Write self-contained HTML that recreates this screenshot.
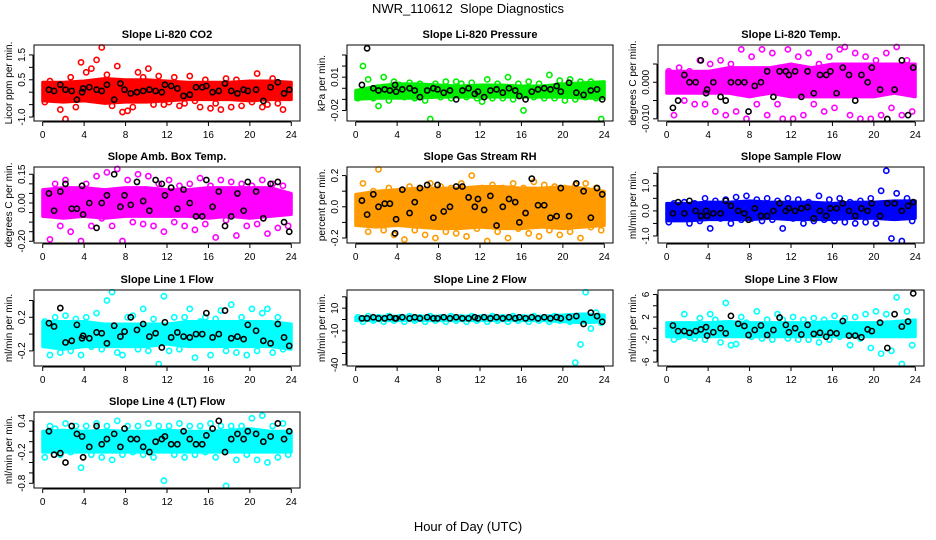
<!DOCTYPE html>
<html><head><meta charset="utf-8"><style>
html,body{margin:0;padding:0;background:#fff;}
svg{display:block;font-family:"Liberation Sans",sans-serif;}
</style></head><body>
<svg id="chart" width="936" height="540" viewBox="0 0 936 540" xmlns="http://www.w3.org/2000/svg">
<text x="468" y="13" font-size="13" text-anchor="middle">NWR_110612&#160; Slope Diagnostics</text>
<text x="468" y="531" font-size="13" text-anchor="middle">Hour of Day (UTC)</text>
</svg>
<script>
// shared hour arrays
const bandHours=[0,2,4,6,8,10,12,14,16,18,20,22,24];
const blackHours=[0.6,1.1,1.7,2.2,2.8,3.3,3.8,3.9,4.5,5.2,5.7,6.2,6.9,7.5,7.9,8.5,9.1,9.7,10.3,10.9,11.5,11.8,12.4,13.0,13.6,14.2,14.8,15.4,15.8,16.4,17.0,17.6,18.2,18.8,19.4,19.8,20.6,21.3,22.0,22.7,23.3,23.8];
const outHours=[0.2,0.7,1.2,1.7,2.2,2.7,3.2,3.7,4.2,4.7,5.2,5.7,6.2,6.7,7.2,7.7,8.2,8.7,9.2,9.7,10.2,10.7,11.2,11.7,12.2,12.7,13.2,13.7,14.2,14.7,15.2,15.7,16.2,16.7,17.2,17.7,18.2,18.7,19.2,19.7,20.2,20.7,21.2,21.7,22.2,22.7,23.2,23.7];
const xTicks=[0,4,8,12,16,20,24];

const co2BandLo=[-0.35,-0.4,-0.35,-0.45,-0.4,-0.4,-0.35,-0.3,-0.3,-0.3,-0.35,-0.3,-0.3];
const co2BandHi=[0.4,0.4,0.45,0.55,0.5,0.5,0.45,0.4,0.4,0.4,0.45,0.45,0.4];
const co2Black=[0.1,0.05,0.3,0.1,0.05,-0.3,0.0,0.15,0.2,0.1,0.05,0.3,-0.3,0.35,0.1,-0.05,0.0,0.05,0.1,0.05,0.0,0.3,0.25,0.15,-0.15,-0.1,0.2,0.2,0.25,0.0,0.05,0.35,0.05,-0.05,0.1,0.05,0.1,-0.35,0.2,0.4,-0.05,0.1];
const co2Out=[-0.4,0.45,-0.1,-0.7,-1.1,0.6,-0.6,1.2,0.8,0.95,1.3,1.8,0.7,-0.55,1.05,-0.8,-0.75,-0.6,0.8,0.6,0.95,-0.5,0.65,-0.5,-0.4,0.6,-0.55,-0.45,0.65,-0.35,-0.6,0.5,-0.65,-0.45,-0.7,0.55,-0.6,0.5,-0.55,0.3,-0.4,0.75,-0.6,-0.5,0.55,-0.45,-0.7,0.3];

const presBandLo=[-0.010,-0.009,-0.009,-0.009,-0.008,-0.008,-0.008,-0.008,-0.008,-0.008,-0.008,-0.009,-0.009];
const presBandHi=[-0.002,0.002,0.004,0.004,0.003,0.002,0.003,0.003,0.002,0.002,0.004,0.005,0.006];
const presBlack=[0.003,0.036,0.0,-0.002,-0.001,-0.002,0.003,-0.003,-0.001,0.0,-0.002,-0.008,-0.002,0.0,-0.001,-0.004,-0.002,-0.010,-0.002,0.0,-0.005,-0.003,-0.008,-0.002,-0.001,-0.004,0.0,-0.002,-0.007,-0.010,-0.003,-0.001,0.0,-0.001,0.002,-0.003,0.005,-0.004,-0.006,-0.002,-0.001,-0.010];
const presOut=[-0.009,0.02,0.008,-0.009,-0.016,0.01,-0.011,0.006,0.003,-0.008,0.005,-0.009,0.004,-0.011,-0.028,0.004,-0.008,0.006,-0.009,0.006,0.004,-0.008,0.005,-0.009,-0.012,0.008,-0.009,0.004,-0.009,0.01,-0.010,0.004,-0.020,0.006,-0.008,0.004,-0.009,0.012,-0.009,0.007,-0.011,0.008,-0.010,0.006,-0.008,0.006,-0.009,-0.030];

const tempBandLo=[-0.003,-0.003,-0.003,-0.003,-0.004,-0.003,-0.004,-0.004,-0.004,-0.004,-0.004,-0.003,-0.004];
const tempBandHi=[0.003,0.003,0.003,0.004,0.004,0.004,0.005,0.004,0.005,0.005,0.005,0.005,0.005];
const tempBlack=[-0.007,-0.005,0.002,0.000,0.000,0.006,-0.003,-0.002,0.000,-0.004,-0.005,0.000,0.000,0.000,-0.008,-0.001,0.000,0.003,-0.004,0.003,0.003,0.002,0.003,-0.004,0.003,-0.003,0.002,0.002,0.003,-0.003,0.004,0.002,-0.005,0.002,0.0,0.004,-0.002,-0.012,-0.002,0.006,-0.009,0.004];
const tempOut=[0.003,-0.009,0.004,-0.005,0.003,-0.006,0.006,-0.006,0.005,-0.008,0.006,-0.009,0.005,-0.008,0.009,-0.010,0.007,-0.006,0.009,-0.009,0.008,-0.006,-0.010,0.009,-0.010,0.007,-0.009,0.008,-0.006,0.005,-0.008,0.007,-0.007,0.009,0.010,-0.009,0.008,-0.010,0.007,-0.010,0.006,-0.009,0.008,-0.007,0.010,-0.009,0.006,-0.008];

const ambBandLo=[-0.07,-0.08,-0.07,-0.08,-0.07,-0.07,-0.07,-0.07,-0.08,-0.07,-0.08,-0.07,-0.06];
const ambBandHi=[0.07,0.08,0.08,0.07,0.08,0.08,0.07,0.07,0.08,0.08,0.08,0.08,0.05];
const ambBlack=[0.05,-0.04,0.06,0.1,-0.03,-0.03,0.09,-0.06,0.0,-0.13,0.0,0.04,0.15,-0.02,0.04,-0.01,0.11,0.01,-0.04,0.12,0.1,0.04,0.08,-0.03,0.07,0.0,-0.07,-0.07,0.12,-0.02,0.06,-0.12,-0.07,0.05,-0.04,0.11,0.06,-0.08,0.1,0.11,-0.1,-0.15];
const ambOut=[-0.05,-0.19,0.1,-0.12,0.12,-0.15,0.05,-0.2,0.1,-0.12,0.14,-0.08,0.16,-0.12,0.18,-0.2,0.12,-0.1,0.15,-0.11,0.14,-0.12,0.1,-0.15,0.12,-0.1,0.09,-0.12,0.1,-0.14,0.13,-0.11,0.09,-0.18,0.12,-0.09,0.11,-0.17,0.1,-0.12,0.09,-0.11,0.12,-0.16,0.1,-0.13,0.09,-0.12];

const rhBandLo=[-0.12,-0.13,-0.12,-0.13,-0.14,-0.14,-0.13,-0.14,-0.14,-0.13,-0.14,-0.13,-0.12];
const rhBandHi=[0.08,0.1,0.11,0.12,0.12,0.12,0.13,0.13,0.12,0.12,0.13,0.12,0.1];
const rhBlack=[0.04,-0.05,0.08,0.0,0.02,0.02,-0.17,-0.08,0.11,-0.04,0.03,0.12,0.14,-0.07,0.14,-0.03,0.0,0.13,0.13,0.06,0.0,0.05,-0.02,0.07,-0.12,0.0,0.05,0.03,-0.1,-0.04,0.18,0.01,0.01,-0.07,-0.06,0.12,-0.06,0.15,0.1,-0.07,0.12,0.08];
const rhOut=[-0.08,0.15,-0.16,0.1,0.24,-0.15,0.12,-0.18,0.1,-0.21,0.13,-0.15,0.12,-0.18,0.15,-0.2,0.13,-0.16,0.12,-0.17,0.15,-0.19,0.2,-0.14,0.12,-0.22,0.14,-0.16,0.12,-0.2,0.15,-0.14,0.12,-0.17,0.16,-0.19,0.14,-0.15,0.13,-0.18,0.12,-0.16,0.14,-0.2,0.15,-0.13,0.12,-0.15];

const sfBandLo=[-0.4,-0.4,-0.35,-0.35,-0.35,-0.3,-0.35,-0.35,-0.35,-0.3,-0.3,-0.35,-0.3];
const sfBandHi=[0.3,0.3,0.35,0.35,0.4,0.35,0.35,0.35,0.3,0.35,0.35,0.4,0.4];
const sfBlack=[-0.1,0.35,-0.1,0.4,0.0,-0.2,0.0,-0.2,-0.1,-0.1,0.4,0.2,0.0,-0.1,-0.35,0.1,-0.2,-0.2,0.0,0.3,0.0,0.1,0.0,0.1,0.15,-0.3,0.0,-0.2,0.1,0.1,0.3,0.0,-0.2,0.1,0.0,0.3,-0.2,0.3,0.3,0.0,0.2,0.35];
const sfOut=[-0.45,0.3,-0.3,0.35,-0.5,0.3,-0.4,0.5,-0.7,0.4,-0.3,0.45,-0.5,0.55,-0.35,0.6,-0.3,0.45,-0.4,0.5,-0.35,0.4,-0.7,0.5,-0.3,0.45,-0.5,0.35,-0.4,0.6,-0.35,0.45,-0.4,0.5,-0.45,0.35,-0.5,0.4,-0.45,0.5,-0.5,0.8,1.6,-1.1,0.7,-1.2,0.5,-0.4];

const l1BandLo=[-0.15,-0.18,-0.15,-0.15,-0.15,-0.15,-0.12,-0.15,-0.15,-0.15,-0.15,-0.15,-0.18];
const l1BandHi=[0.15,0.15,0.15,0.12,0.12,0.12,0.12,0.15,0.15,0.15,0.15,0.15,0.12];
const l1Black=[0.13,0.09,0.31,-0.1,-0.08,0.11,-0.05,-0.02,-0.05,0.02,0.01,-0.11,0.10,-0.03,0.03,0.2,0.05,0.12,-0.03,0.01,-0.16,0.14,-0.04,0.02,-0.03,-0.04,0.0,0.0,0.25,-0.04,0.0,0.28,-0.05,-0.03,-0.06,0.11,0.04,-0.08,-0.11,0.12,-0.04,-0.14];
const l1Out=[0.15,-0.25,0.2,-0.22,0.22,-0.2,0.18,-0.25,0.2,-0.15,0.25,-0.18,0.4,0.5,-0.22,-0.25,0.2,0.22,-0.18,0.3,-0.2,0.18,-0.36,0.45,-0.2,0.2,-0.18,0.2,0.3,-0.28,0.15,0.2,-0.25,0.18,0.28,-0.2,0.35,-0.22,0.2,-0.25,0.3,-0.2,0.25,0.3,-0.22,0.2,-0.18,-0.15];

const l2BandLo=[-1,-1,-1,-1,-1,-1,-1,-1,-1,-1,-2,-3,-2];
const l2BandHi=[2,3,3,3,3,3,3,3,3,3,4,5,4];
const l2Black=[1,1,2,1,1,2,1,1,2,1,2,1,2,1,1,2,1,2,1,1,2,1,2,1,2,1,2,1,2,1,2,1,2,1,2,1,2,3,-4,6,3,-2];
const l2Out=[2,-2,3,-1,2,-2,3,-1,2,-2,3,-1,2,-2,3,-1,2,-2,3,-1,2,-2,3,-1,2,-2,3,-1,2,-2,3,-1,2,-2,3,-1,2,-2,3,-1,2,-2,-38,-22,24,-8,6,-3];

const l3BandLo=[-1.5,-1.5,-1.5,-1.5,-1.5,-1.5,-1.5,-1.5,-1.5,-1.5,-1.5,-1.5,-1.5];
const l3BandHi=[1,1,1,1.2,1,1,1,1,1.2,1,1,1.2,1.5];
const l3Black=[0.5,-0.5,-0.5,-0.8,-0.5,-0.2,0.2,-1.3,-0.7,0,-0.9,2.2,0.8,0.4,-1.2,-0.3,0.5,-1.2,-0.3,1.9,0.6,-0.7,0,-1.1,0.6,-1.0,-0.8,-1.5,-0.8,-0.9,1.3,-1.3,-1.3,-1.6,-0.2,-0.5,1.0,-3.5,2.5,0.3,1.2,6.2];
const l3Out=[-0.8,-2,-1.5,2.5,-1.5,-1.8,1.8,-2,2.5,1.5,-2.5,4.5,-3,-2.8,2,1,-1.5,3,-1.8,1.5,-2,2.5,1.5,-1.8,2,-2,1.5,-2,1.8,-2.5,1.5,-2,2.2,-1.5,1.8,-3,2,-1.8,2.5,-3.5,3,-4.5,2.5,-4,5.5,-6.5,3,-3];

const l4BandLo=[-0.2,-0.2,-0.2,-0.2,-0.2,-0.2,-0.2,-0.2,-0.2,-0.2,-0.2,-0.2,-0.2];
const l4BandHi=[0.2,0.22,0.2,0.22,0.2,0.2,0.22,0.2,0.2,0.22,0.25,0.2,0.2];
const l4Black=[0.2,-0.25,-0.22,-0.4,0.3,0.15,0.1,-0.3,-0.1,0.3,-0.05,0.05,0.15,-0.1,0.25,0.05,0.05,-0.1,-0.2,0.0,0.05,0.1,-0.05,-0.05,0.2,0.05,-0.05,-0.05,0.12,0.25,0.4,-0.2,0.05,0.15,0.05,0.2,0.15,0.0,0.1,0.35,0.05,0.2];
const l4Out=[-0.3,0.3,0.25,-0.25,0.35,-0.2,0.3,-0.5,0.3,-0.25,0.35,-0.3,0.3,-0.35,0.4,-0.25,0.3,-0.2,0.3,-0.25,0.35,-0.3,0.3,-0.75,0.3,-0.25,0.35,-0.3,0.3,-0.25,0.3,-0.2,0.35,-0.3,0.3,-0.85,0.3,-0.35,0.3,-0.25,0.45,-0.35,0.5,-0.4,0.3,-0.3,0.35,-0.25];

const NS='http://www.w3.org/2000/svg';
const svg=document.getElementById('chart');
function mk(tag,attrs,parent){const e=document.createElementNS(NS,tag);for(const k in attrs)e.setAttribute(k,attrs[k]);(parent||svg).appendChild(e);return e;}

const panels=[
 {key:'co2',title:'Slope Li-820 CO2',ylab:'Licor ppm per min.',col:'#ff0000',c:0,r:0,ymin:-1.16,ymax:1.9,ticks:[-1,-0.5,0,0.5,1,1.5],labels:{'-1':'-1.0','0.5':'0.5','1.5':'1.5'},lo:co2BandLo,hi:co2BandHi,bk:co2Black,out:co2Out},
 {key:'pressure',title:'Slope Li-820 Pressure',ylab:'kPa per min.',col:'#00ee00',c:1,r:0,ymin:-0.0295,ymax:0.039,ticks:[-0.03,-0.02,-0.01,0,0.01,0.02,0.03],labels:{'-0.02':'-0.02','0.01':'0.01'},lo:presBandLo,hi:presBandHi,bk:presBlack,out:presOut},
 {key:'temp',title:'Slope Li-820 Temp.',ylab:'degrees C per min.',col:'#ff00ff',c:2,r:0,ymin:-0.0106,ymax:0.0102,ticks:[-0.01,-0.005,0,0.005],labels:{'-0.01':'-0.010','0':'0.000'},lo:tempBandLo,hi:tempBandHi,bk:tempBlack,out:tempOut},
 {key:'ambbox',title:'Slope Amb. Box Temp.',ylab:'degrees C per min.',col:'#ff00ff',c:0,r:1,ymin:-0.209,ymax:0.188,ticks:[-0.2,-0.15,-0.1,-0.05,0,0.05,0.1,0.15],labels:{'-0.2':'-0.20','0':'0.00','0.15':'0.15'},lo:ambBandLo,hi:ambBandHi,bk:ambBlack,out:ambOut},
 {key:'rh',title:'Slope Gas Stream RH',ylab:'percent per min.',col:'#ff9a00',c:1,r:1,ymin:-0.232,ymax:0.255,ticks:[-0.2,-0.1,0,0.1,0.2],labels:{'-0.2':'-0.2','0':'0.0','0.2':'0.2'},lo:rhBandLo,hi:rhBandHi,bk:rhBlack,out:rhOut},
 {key:'sampleflow',title:'Slope Sample Flow',ylab:'ml/min per min.',col:'#0000ff',c:2,r:1,ymin:-1.28,ymax:1.75,ticks:[-1,-0.5,0,0.5,1,1.5],labels:{'-1':'-1.0','0':'0.0','1':'1.0'},lo:sfBandLo,hi:sfBandHi,bk:sfBlack,out:sfOut},
 {key:'line1',title:'Slope Line 1 Flow',ylab:'ml/min per min.',col:'#00ffff',c:0,r:2,ymin:-0.38,ymax:0.525,ticks:[-0.2,0,0.2,0.4],labels:{'-0.2':'-0.2','0.2':'0.2'},lo:l1BandLo,hi:l1BandHi,bk:l1Black,out:l1Out},
 {key:'line2',title:'Slope Line 2 Flow',ylab:'ml/min per min.',col:'#00ffff',c:1,r:2,ymin:-41,ymax:26,ticks:[-40,-30,-20,-10,0,10,20],labels:{'-40':'-40','-10':'-10','10':'10'},lo:l2BandLo,hi:l2BandHi,bk:l2Black,out:l2Out},
 {key:'line3',title:'Slope Line 3 Flow',ylab:'ml/min per min.',col:'#00ffff',c:2,r:2,ymin:-6.7,ymax:6.8,ticks:[-6,-4,-2,0,2,4,6],labels:{'-6':'-6','-2':'-2','2':'2','6':'6'},lo:l3BandLo,hi:l3BandHi,bk:l3Black,out:l3Out},
 {key:'line4',title:'Slope Line 4 (LT) Flow',ylab:'ml/min per min.',col:'#00ffff',c:0,r:3,ymin:-0.89,ymax:0.57,ticks:[-0.8,-0.6,-0.4,-0.2,0,0.2,0.4],labels:{'-0.8':'-0.8','-0.2':'-0.2','0.4':'0.4'},lo:l4BandLo,hi:l4BandHi,bk:l4Black,out:l4Out}
];
const colX=[34,347,658], rowY=[45,167,290,412], W=266, H=76;

panels.forEach(p=>{
  const L=colX[p.c], T=rowY[p.r], R=L+W, B=T+H;
  const g=mk('g',{});
  
  
  const xs=h=>L+(h+0.84)/25.68*W;
  const ys=v=>B-(v-p.ymin)/(p.ymax-p.ymin)*H;
  const cy=v=>Math.max(T+2,Math.min(B-2,ys(v)));
  const clip='clip-'+p.key;
  const cp=mk('clipPath',{id:clip},g); mk('rect',{x:L,y:T,width:W,height:H},cp);
  const t=mk('text',{x:(L+R)/2,y:T-7,'font-size':11,'font-weight':'bold','text-anchor':'middle'},g);
  t.textContent=p.title;
  
  
  let pts=p.lo.map((v,i)=>xs(bandHours[i])+','+ys(v));
  pts=pts.concat(p.hi.map((v,i)=>xs(bandHours[i])+','+ys(v)).reverse());
  const band=mk('polygon',{points:pts.join(' '),fill:p.col,stroke:p.col,'stroke-width':3,'stroke-linejoin':'round','clip-path':'url(#'+clip+')'},g);
  
  
  p.out.forEach((v,i)=>{
    const c=mk('circle',{cx:xs(outHours[i]),cy:cy(v),r:2.6,fill:'none',stroke:p.col,'stroke-width':1.6},g);
    
    
  });
  p.bk.forEach((v,i)=>{
    const c=mk('circle',{cx:xs(blackHours[i]),cy:cy(v),r:2.6,fill:'none',stroke:'#000','stroke-width':1.6},g);
    
    
  });
  const box=mk('rect',{x:L,y:T,width:W,height:H,fill:'none',stroke:'#000','stroke-width':1},g);
  
  
  mk('line',{x1:xs(0),x2:xs(24),y1:B+1,y2:B+1,stroke:'#000'},g);
  xTicks.forEach(h=>{
    mk('line',{x1:xs(h),x2:xs(h),y1:B+1,y2:B+5,stroke:'#000'},g);
    const lt=mk('text',{x:xs(h),y:B+17,'font-size':10,'text-anchor':'middle'},g);
    lt.textContent=h;
    
    
  });
  const tv=p.ticks.filter(v=>v>=p.ymin&&v<=p.ymax);
  mk('line',{x1:L-1,x2:L-1,y1:ys(tv[0]),y2:ys(tv[tv.length-1]),stroke:'#000'},g);
  tv.forEach(v=>{
    mk('line',{x1:L-5,x2:L-1,y1:ys(v),y2:ys(v),stroke:'#000'},g);
    const lab=p.labels[String(v)];
    if(lab){
      const yt=mk('text',{x:0,y:0,'font-size':10,'text-anchor':'middle',transform:'translate('+(L-9)+','+ys(v)+') rotate(-90)'},g);
      yt.textContent=lab;
      
      
    }
  });
  const yl=mk('text',{x:0,y:0,'font-size':10,'text-anchor':'middle',transform:'translate('+(L-22)+','+(T+H/2)+') rotate(-90)'},g);
  yl.textContent=p.ylab;
  
  
});
</script>
</body></html>
